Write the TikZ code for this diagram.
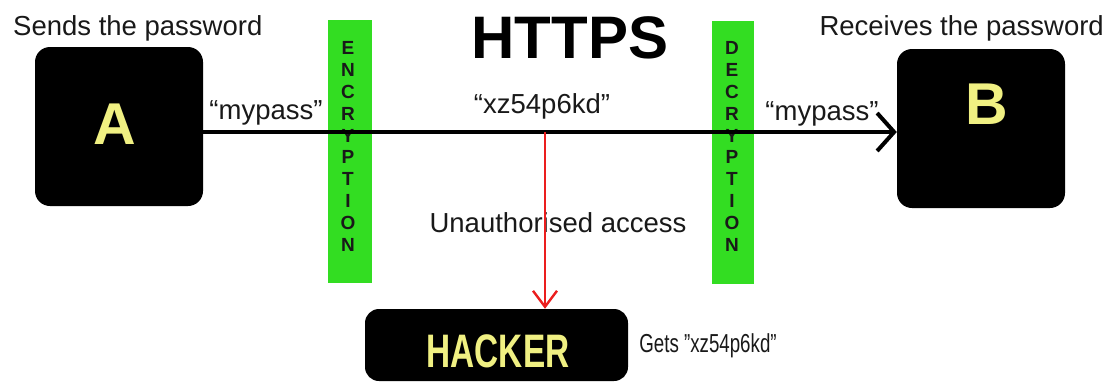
\documentclass[tikz,border=0pt]{standalone}
\usepackage{fontspec}
\usepackage{graphicx}
\setmainfont{Liberation Sans}
\usetikzlibrary{arrows.meta}
\definecolor{barGreen}{RGB}{51,221,34}
\definecolor{pale}{RGB}{240,240,130}
\definecolor{ink}{RGB}{25,25,25}
\definecolor{alert}{RGB}{235,30,30}
\tikzset{
  box/.style={fill=black, rounded corners=15pt, inner sep=0pt},
  boxletter/.style={text=pale, font=\fontsize{59}{59}\selectfont\bfseries, inner sep=0pt, anchor=center},
  lbl/.style={text=ink, font=\fontsize{27.5}{27.5}\selectfont, inner sep=0pt},
  bar/.style={fill=barGreen, inner sep=0pt, minimum width=44pt, minimum height=263pt},
  barword/.style={text=ink, font=\fontsize{19}{21.9}\selectfont\bfseries, align=center, inner sep=0pt}
  ,
  wire/.style={line width=3.2pt, black},
  tap/.style={line width=2.4pt, alert}
}
\begin{document}
\begin{tikzpicture}[x=1pt,y=-1pt]
\useasboundingbox (0,0) rectangle (1107,383);
% green bars
\node[bar] (enc) at (350,151.5) {};
\node[bar, minimum width=42pt] (dec) at (732.5,152.5) {};
\node[barword] (encw) at (348,146.5) {E\\N\\C\\R\\Y\\P\\T\\I\\O\\N};
\node[barword] (decw) at (732,146.5) {D\\E\\C\\R\\Y\\P\\T\\I\\O\\N};
% boxes
\node[box, minimum width=168pt, minimum height=159pt] (A) at (119,126.5) {};
\node[box, minimum width=168pt, minimum height=159pt] (B) at (981,128.5) {};
\node[box, minimum width=263pt, minimum height=72pt, rounded corners=14pt] (H) at (496.5,345) {};
\node[boxletter] (Al) at (115,124) {A};
\node[boxletter] (Bl) at (987,104) {B};
\node[text=pale, font=\fontsize{47}{47}\selectfont\bfseries, inner sep=0pt, anchor=base] (Hl) at (498,367) {\scalebox{0.71}[1]{HACKER}};
% titles and labels
\node[text=black, font=\fontsize{60}{60}\selectfont\bfseries, inner sep=0pt, anchor=base] (https) at (570,58) {HTTPS};
\node[lbl, anchor=base west] (sends) at (13,35) {Sends the password};
\node[lbl, anchor=base east] (recv) at (1104,35) {Receives the password};
\node[lbl, anchor=base] (m1) at (266,119) {“mypass”};
\node[lbl, anchor=base] (enc1) at (542,113) {“xz54p6kd”};
\node[lbl, anchor=base] (m2) at (822,120) {“mypass”};
\node[lbl, anchor=base] (ua) at (558,232) {Unauthorised access};
\node[lbl, anchor=base, font=\fontsize{26}{26}\selectfont] (gets) at (708,352) {\scalebox{0.72}[1]{Gets "xz54p6kd"}};
% connectors
\draw[wire, -{Straight Barb[length=17pt, width=38pt, line width=4pt]}] ([yshift=-5.5pt]A.east) -- ([yshift=-3.5pt]B.west);
\coordinate (split) at (545,132);
\draw[tap, -{Straight Barb[length=16pt, width=24pt, line width=2.4pt]}] (split) -- (split |- H.north);
\end{tikzpicture}
\end{document}
